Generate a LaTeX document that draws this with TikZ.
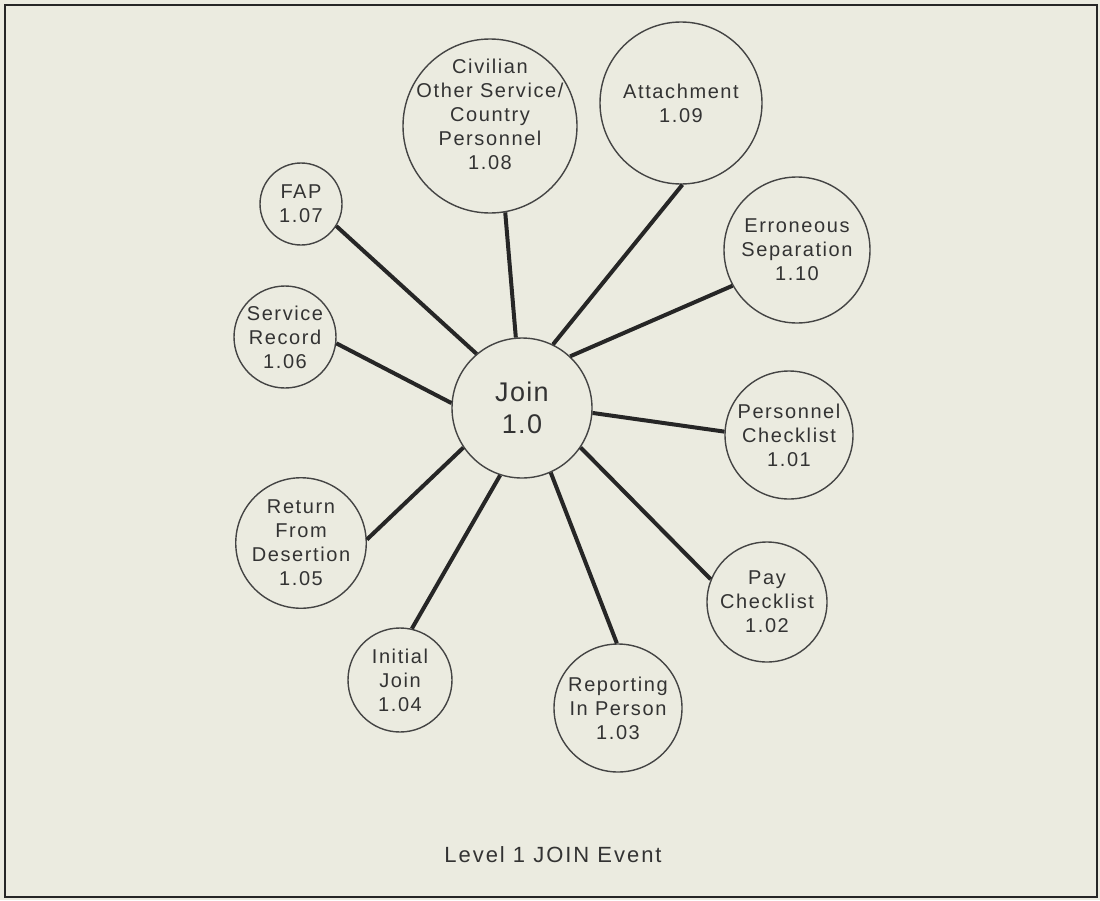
\documentclass[tikz,border=0pt]{standalone}
\usepackage{fontspec}
\setmainfont{Liberation Sans}
\newfontfamily\labelfont[LetterSpace=8]{Liberation Sans}
\newfontfamily\hubfont[LetterSpace=5]{Liberation Sans}
\newfontfamily\captionfont[LetterSpace=9]{Liberation Sans}
\definecolor{paper}{HTML}{EBEBE0}
\definecolor{ink}{HTML}{262626}
\definecolor{rim}{HTML}{444444}
\definecolor{lettering}{HTML}{333333}
\begin{document}
\begin{tikzpicture}[x=1pt,y=-1pt,
  event/.style={circle,draw=rim,line width=1.4pt,inner sep=0pt,align=center,
    text=lettering,font=\labelfont\fontsize{20}{24}\selectfont},
  eventtext/.style={inner sep=0pt,align=center,text=lettering,
    font=\labelfont\fontsize{20}{24}\selectfont},
  hub/.style={event,font=\hubfont\fontsize{27}{32}\selectfont},
  link/.style={draw=ink,line width=4pt}]
\fill[paper] (0,0) rectangle (1100,900);
\useasboundingbox (0,0) rectangle (1100,900);
\draw[ink,line width=2.5pt] (5,5) rectangle (1097,897);

% central event
\node[hub,minimum size=140pt] (join) at (522,408) {Join\\1.0};

% sub-events
\node[event,minimum size=174pt] (e08) at (490,126) {};
\node[eventtext] (e08text) at ([yshift=12pt]e08.center) {Civilian\\Other Service/\\Country\\Personnel\\1.08};
\node[event,minimum size=162pt] (e09) at (681,103) {Attachment\\1.09};
\node[event,minimum size=146pt] (e10) at (797,250) {Erroneous\\Separation\\1.10};
\node[event,minimum size=128pt] (e01) at (789,435) {Personnel\\Checklist\\1.01};
\node[event,minimum size=120pt] (e02) at (767,602) {Pay\\Checklist\\1.02};
\node[event,minimum size=128pt] (e03) at (618,708) {Reporting\\In Person\\1.03};
\node[event,minimum size=104pt] (e04) at (400,680) {Initial\\Join\\1.04};
\node[event,minimum size=114pt] (e05) at (301,543) {Return\\From\\Desertion\\1.05};
\node[event,minimum size=102pt] (e06) at (285,337) {Service\\Record\\1.06};
\node[event,minimum size=82pt] (e07) at (301,204) {FAP\\1.07};

% spokes
\draw[link] (join.130.6) -- (e07.-32);
\draw[link] (join.95)    -- (e08.-80);
\draw[link] (join.64.5)  -- (e09.-89);
\draw[link] (join.47.5)  -- (e10.209);
\draw[link] (join.-4)    -- (e01.177);
\draw[link] (join.-34.6) -- (e02.158);
\draw[link] (join.-66.7) -- (e03.91);
\draw[link] (join.252)   -- (e04.77);
\draw[link] (join.214)   -- (e05.3);
\draw[link] (join.176)   -- (e06.-7);

\node[font=\captionfont\fontsize{22}{26}\selectfont,text=lettering] (caption) at (553,855) {Level 1 JOIN Event};
\end{tikzpicture}
\end{document}
